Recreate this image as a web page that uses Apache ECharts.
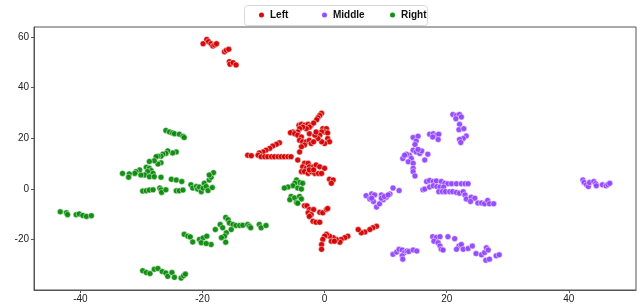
<!DOCTYPE html>
<html>
<head>
<meta charset="utf-8">
<script src="https://cdn.jsdelivr.net/npm/echarts@6/dist/echarts.min.js"></script>
<style>
  html, body { margin: 0; padding: 0; background: #fff; }
  #chart { width: 637px; height: 304px; }
</style>
</head>
<body>
<div id="chart"></div>
<script>
// 类别
var groups = ['Left', 'Middle', 'Right'];
var colors = ['#d40000', '#9146ff', '#0a8a0a'];

// Left 点 [x, y]
var leftPoints = [
    [-19.9, 57.4], [-19.3, 59.1], [-19.0, 58.2], [-18.6, 57.4], [-18.3, 56.5], [-18.0, 56.9], [-17.7, 57.4],
    [-16.4, 54.2], [-16.1, 54.8], [-15.7, 55.2], [-15.6, 50.3], [-15.5, 49.3], [-15.0, 49.9], [-14.5, 49.0],
    [-0.5, 29.9], [-0.8, 29.0], [-1.1, 28.1], [-1.3, 27.3], [-4.2, 25.1], [-3.8, 25.5], [-3.3, 25.1],
    [-2.7, 25.5], [-2.2, 25.1], [-1.8, 26.0], [-2.5, 24.4], [-3.0, 23.8], [-3.6, 24.4], [-4.1, 23.8],
    [-4.4, 22.5], [-5.2, 22.5], [-5.6, 22.2], [-4.9, 21.8], [-0.3, 23.8], [0.3, 23.8], [0.0, 22.5],
    [-0.5, 22.5], [0.5, 22.1], [-0.8, 21.2], [0.5, 19.9], [0.8, 18.6], [0.0, 17.9], [-0.5, 18.6],
    [-1.1, 19.9], [-4.4, 21.2], [-3.8, 20.5], [-4.1, 19.2], [-3.6, 18.6], [-3.0, 18.6], [-2.5, 19.2],
    [-2.2, 17.9], [-1.8, 18.6], [-3.3, 17.3], [-3.8, 16.6], [-4.1, 14.6], [-2.5, 21.8], [-1.6, 21.2],
    [-1.4, 22.5],
    [-7.4, 18.2], [-7.9, 17.6], [-8.5, 16.9], [-9.0, 16.0], [-9.6, 15.3], [-10.1, 14.6], [-10.7, 14.2],
    [-10.9, 13.3], [-10.4, 12.7], [-9.8, 12.7], [-9.3, 12.7], [-8.7, 12.7], [-8.2, 12.7], [-7.6, 12.7],
    [-7.1, 12.7], [-6.6, 12.7], [-6.0, 12.7], [-5.5, 12.7], [-12.6, 13.3], [-12.0, 13.1], [-4.4, 11.4],
    [-3.3, 10.1], [-2.7, 10.1], [-3.6, 8.7], [-3.0, 8.1], [-2.5, 8.7], [-1.8, 8.7], [-1.4, 9.4],
    [-0.8, 8.7], [0.0, 8.1], [-3.8, 6.8], [-3.3, 6.8], [-2.7, 6.1], [-2.2, 6.8], [-1.6, 6.1],
    [-1.0, 6.1], [-0.5, 6.1], [-2.5, 7.5], [-1.8, 7.5], [0.8, 3.8], [1.4, 3.5], [1.1, 2.2],
    [-3.3, -6.7], [-2.9, -6.7], [-2.5, -8.2], [-1.8, -8.2], [-2.7, -9.5], [-2.2, -10.2], [-2.5, -10.9],
    [-0.8, -9.3], [-0.3, -9.5], [0.3, -8.2], [0.5, -7.8], [-1.9, -12.8], [-1.4, -13.2], [-0.8, -13.2],
    [8.5, -14.8], [7.9, -15.4], [7.4, -16.1], [6.6, -17.1], [6.0, -17.4], [5.5, -16.1], [3.8, -18.7],
    [3.3, -19.3], [2.7, -20.0], [2.5, -21.1], [1.9, -20.0], [1.4, -19.3], [0.8, -18.7], [0.3, -18.0],
    [0.0, -18.7], [-0.3, -20.0], [-0.5, -22.0], [-0.5, -23.9], [1.1, -20.7], [1.6, -20.7]
];

// Middle 点 [x, y]
var middlePoints = [
    [21.0, 29.4], [21.6, 29.0], [22.1, 29.4], [22.4, 28.4], [21.5, 27.7], [22.1, 25.5], [22.0, 23.4],
    [22.8, 23.8], [23.2, 20.9], [22.7, 19.9], [22.1, 19.5], [22.3, 18.3],
    [17.2, 21.6], [17.8, 21.8], [18.3, 21.2], [18.7, 21.6], [17.7, 20.5], [18.6, 19.5],
    [14.5, 20.3], [15.3, 20.8], [15.0, 18.9], [14.8, 17.5], [14.5, 15.3], [15.0, 14.6], [15.6, 14.0],
    [15.9, 15.0], [13.9, 13.3], [13.4, 13.7], [12.8, 12.0], [14.2, 12.0], [13.7, 10.7], [14.5, 10.1],
    [14.5, 8.1], [14.5, 6.8], [14.8, 5.1], [16.9, 13.7], [16.4, 11.4], [15.3, 15.6], [13.1, 13.3],
    [16.7, 2.9], [17.2, 3.3], [17.8, 2.9], [18.3, 3.1], [19.1, 2.9], [19.7, 2.2], [20.2, 2.0],
    [20.8, 2.0], [21.6, 2.0], [22.4, 2.0], [23.0, 2.0], [23.5, 2.0], [16.1, -0.4], [16.4, -0.1],
    [17.2, 0.7], [17.8, 1.2], [18.4, 0.9], [18.9, 0.7], [19.5, 0.7], [18.7, -1.1], [19.3, -1.1],
    [19.8, -1.1], [20.5, -1.1], [21.0, -1.1], [21.6, -1.4], [22.1, -1.7], [22.7, -1.1], [23.0, -2.4],
    [23.2, -4.0], [24.0, -3.3], [24.6, -3.7], [23.9, -5.0], [25.1, -5.6], [25.7, -5.6], [26.2, -5.9],
    [26.7, -4.6], [27.0, -5.9], [27.7, -5.9],
    [6.8, -2.7], [7.7, -2.0], [8.2, -2.4], [7.4, -4.0], [8.0, -5.0], [8.5, -7.2], [9.0, -5.9],
    [9.6, -4.3], [10.1, -3.3], [9.3, -2.4], [10.7, -2.0], [11.2, 0.3], [12.2, -0.7], [7.7, -3.7],
    [9.3, -3.7], [9.8, -3.0], [10.4, -2.4],
    [11.2, -25.9], [11.8, -25.0], [12.2, -23.9], [12.7, -24.2], [13.1, -25.2], [13.5, -24.6], [13.8, -24.8],
    [14.5, -24.2], [15.1, -24.6], [12.7, -26.5], [12.8, -27.8], [17.7, -18.9], [18.3, -19.2], [18.9, -18.9],
    [17.9, -20.7], [18.6, -21.3], [18.9, -22.6], [19.1, -23.9], [19.4, -24.2], [20.2, -18.9], [21.3, -19.7],
    [22.0, -22.6], [22.4, -22.0], [21.6, -23.9], [22.7, -23.9], [23.5, -23.6], [24.2, -22.6], [24.8, -25.6],
    [25.7, -26.1], [26.2, -25.2], [26.5, -23.3], [26.8, -24.2], [26.4, -28.2], [27.0, -27.8], [28.1, -26.5],
    [28.6, -26.1],
    [42.3, 3.5], [42.5, 2.5], [42.9, 1.6], [43.2, 0.9], [43.4, 2.5], [44.1, 2.9], [44.4, 2.0],
    [44.5, 1.2], [45.5, 1.6], [46.1, 1.2], [46.4, 1.7], [46.7, 2.2]
];

// Right 点 [x, y]
var rightPoints = [
    [-4.6, 3.5], [-4.1, 2.5], [-3.6, 2.2], [-4.9, 2.2], [-5.2, 1.2], [-6.0, 0.7], [-6.6, 0.3],
    [-4.4, 0.3], [-3.8, -0.1], [-5.5, -3.0], [-5.7, -4.3], [-4.9, -3.6], [-4.1, -3.0], [-3.8, -4.0],
    [-4.6, -5.4], [-4.4, -5.7],
    [-26.0, 23.1], [-25.4, 22.5], [-24.9, 22.1], [-24.6, 21.8], [-23.8, 21.6], [-23.2, 20.8], [-23.0, 20.3],
    [-24.3, 14.6], [-24.9, 14.2], [-25.7, 15.0], [-26.0, 14.0], [-26.5, 13.7], [-26.8, 12.9], [-27.3, 12.9],
    [-27.6, 12.7], [-26.8, 10.3], [-27.3, 9.8], [-27.9, 11.1], [-28.7, 10.8], [-29.2, 8.5], [-28.7, 8.1],
    [-28.4, 7.2], [-29.0, 6.8], [-28.1, 6.1], [-29.5, 5.5], [-30.1, 5.5], [-30.3, 7.5], [-30.9, 6.8],
    [-31.1, 6.1], [-32.0, 5.9], [-32.1, 4.6], [-33.1, 6.1], [-28.7, 4.8], [-27.9, 4.8], [-26.8, 4.6],
    [-25.1, 3.8], [-24.3, 3.5], [-23.4, 2.9],
    [-29.8, -0.9], [-29.2, -0.8], [-28.7, -0.5], [-28.1, -0.4], [-27.0, 0.3], [-26.8, -0.4], [-26.7, -1.4],
    [-26.0, -0.4], [-24.3, -0.8], [-23.8, -0.8], [-23.2, -0.5],
    [-21.9, 1.6], [-21.6, 0.3], [-21.0, 0.9], [-20.8, -0.1], [-20.5, 0.7], [-20.2, -1.1], [-19.9, 0.3],
    [-19.7, 2.2], [-19.4, 0.9], [-19.1, -0.7], [-18.9, 3.5], [-18.6, 4.6], [-18.2, 6.4], [-18.9, 5.5],
    [-18.4, 0.5],
    [-43.3, -9.1], [-42.3, -9.5], [-42.1, -10.2], [-40.7, -10.2], [-40.2, -9.9], [-39.6, -10.5], [-39.0, -10.9],
    [-38.2, -10.6],
    [-23.0, -18.0], [-22.4, -18.7], [-22.0, -19.0], [-21.6, -21.0], [-20.5, -20.0], [-19.9, -19.4], [-20.2, -21.3],
    [-19.3, -18.7], [-18.6, -22.0], [-19.4, -21.6], [-17.9, -16.1], [-17.1, -14.1], [-16.7, -15.4], [-16.2, -11.3],
    [-15.8, -12.2], [-15.6, -13.5], [-15.0, -14.1], [-14.5, -14.5], [-13.9, -14.5], [-13.4, -14.4], [-12.6, -14.1],
    [-15.3, -16.1], [-16.1, -17.4], [-16.4, -18.7], [-16.9, -19.3], [-16.2, -21.1], [-12.3, -14.8], [-12.1, -15.4],
    [-10.7, -14.1], [-10.4, -15.4], [-9.6, -14.5],
    [-29.8, -32.4], [-29.2, -33.1], [-28.6, -33.5], [-27.9, -31.8], [-27.3, -31.5], [-26.6, -32.7], [-26.0, -33.3],
    [-25.7, -34.6], [-25.0, -33.1], [-24.6, -35.0], [-23.5, -35.3], [-23.1, -34.4], [-22.8, -33.7]
];

var xTicks = [-40, -20, 0, 20, 40];
var yTicks = [-20, 0, 20, 40, 60];

var pointSets = [leftPoints, middlePoints, rightPoints];
var axisFont = { color: '#222', fontSize: 10, fontFamily: 'Liberation Sans' };

var series = groups.map(function(name, i) {
    return {
        name: name,
        type: 'scatter',
        data: pointSets[i],
        symbolSize: 6,
        itemStyle: { color: colors[i], borderColor: '#fff', borderWidth: 0.5, opacity: 0.95 }
    };
});

// 每个图例项单独放，间距对齐原图
var legendLefts = [257, 320, 388];
var legends = groups.map(function(name, i) {
    return {
        top: 10,
        left: legendLefts[i],
        icon: 'circle',
        itemWidth: 7,
        itemHeight: 7,
        padding: 0,
        textStyle: { fontSize: 10, fontWeight: 'bold', fontFamily: 'Liberation Sans', color: '#111' },
        data: [name],
        z: 11
    };
});

var option = {
    animation: false,
    color: colors,
    grid: { left: 34, right: 1, top: 27, bottom: 13 },
    legend: legends,
    xAxis: {
        type: 'value',
        min: -47.6,
        max: 51,
        splitLine: { show: false },
        axisLine: { show: true, onZero: false, lineStyle: { color: '#555' } },
        axisTick: { show: true, length: 3, lineStyle: { color: '#555' }, customValues: xTicks },
        axisLabel: Object.assign({ margin: 4, customValues: xTicks }, axisFont)
    },
    yAxis: {
        type: 'value',
        min: -40,
        max: 64,
        splitLine: { show: false },
        axisLine: { show: true, onZero: false, lineStyle: { color: '#555' } },
        axisTick: { show: true, length: 3, lineStyle: { color: '#555' }, customValues: yTicks },
        axisLabel: Object.assign({ margin: 5, customValues: yTicks }, axisFont)
    },
    series: series
};

var chart = echarts.init(document.getElementById('chart'));
chart.setOption(option);

// 坐标框 + 图例外框
var gridRect = chart.getModel().getComponent('grid').coordinateSystem.getRect();
chart.setOption({
    graphic: [{
        type: 'rect',
        silent: true,
        shape: { x: gridRect.x, y: gridRect.y, width: gridRect.width, height: gridRect.height },
        style: { fill: 'none', stroke: '#555', lineWidth: 1 },
        z: 0
    }, {
        type: 'rect',
        silent: true,
        shape: { x: 244.5, y: 5.5, width: 183, height: 20, r: 3 },
        style: { fill: '#fff', stroke: '#d8d8d8', lineWidth: 1 },
        z: 5
    }]
});
</script>
</body>
</html>
